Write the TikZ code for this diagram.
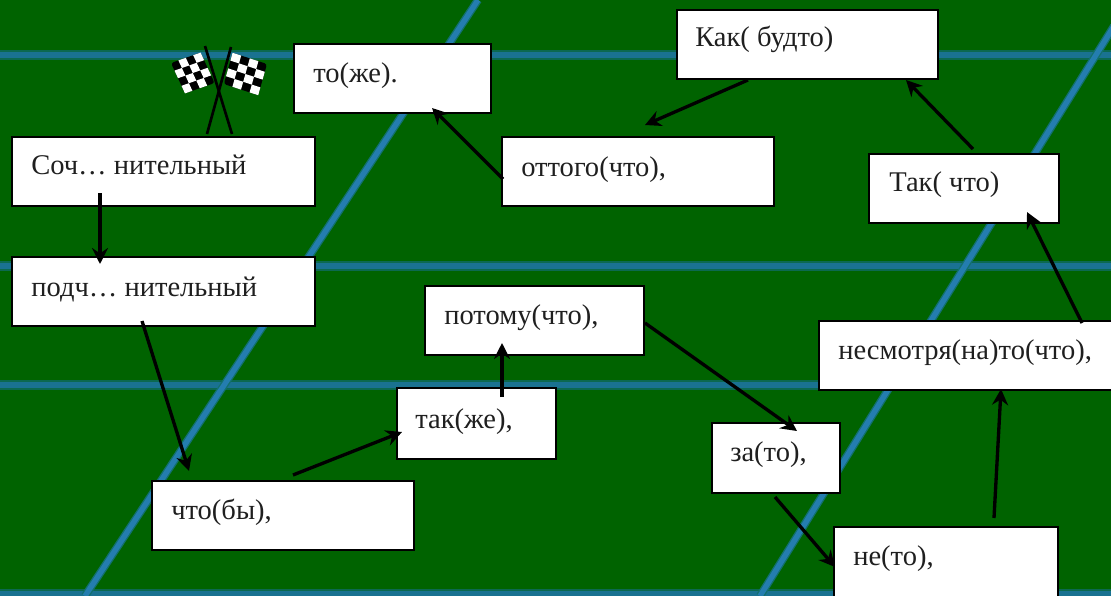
\documentclass[tikz,border=0pt]{standalone}
\usepackage{fontspec}
\setmainfont{Liberation Serif}
\usetikzlibrary{arrows.meta}
\definecolor{bggreen}{RGB}{0,99,0}
\definecolor{hblue}{RGB}{26,114,145}
\definecolor{hglow}{RGB}{12,105,80}
\definecolor{dblue}{RGB}{36,125,175}
\definecolor{dglow}{RGB}{18,112,110}
\tikzset{
  x=0.75pt,y=-0.75pt,
  box/.style={draw=black,line width=1.6pt,fill=white,inner sep=0pt,outer sep=0pt,anchor=north west},
  lbl/.style={anchor=base west,inner sep=0pt,font=\fontsize{21.4pt}{24pt}\selectfont,text=black!88},
  conn/.style={draw=black,line width=2.5pt,-{Stealth[length=12pt,width=12pt,inset=4pt]}},
  pole/.style={draw=black,line width=2pt},
}
\newcommand{\hband}[1]{\draw[hglow,line width=7.5pt] (0,#1) -- (1111,#1);\draw[hblue,line width=5pt] (0,#1) -- (1111,#1);}
\newcommand{\dband}[4]{\draw[dglow,line width=6pt] (#1,#2) -- (#3,#4);\draw[dblue,line width=4pt] (#1,#2) -- (#3,#4);}
\newcommand{\mkbox}[5]{\node[box,minimum width=#3*0.75pt,minimum height=#4*0.75pt] (#5) at (#1,#2) {};}
\newcommand{\flagcheck}[6]{%
  \fill[black,rounded corners=2pt] (#1,#2) -- ({#1+4*(#3)},{#2+4*(#4)}) -- ({#1+4*(#3)+4*(#5)},{#2+4*(#4)+4*(#6)}) -- ({#1+4*(#5)},{#2+4*(#6)}) -- cycle;
  \foreach \i in {0,...,3}{\foreach \j in {0,...,3}{%
    \pgfmathtruncatemacro{\oddcell}{mod(\i+\j,2)}%
    \ifnum\oddcell=1
      \fill[white] ({#1+\i*(#3)+\j*(#5)},{#2+\i*(#4)+\j*(#6)}) -- ({#1+(\i+1)*(#3)+\j*(#5)},{#2+(\i+1)*(#4)+\j*(#6)}) -- ({#1+(\i+1)*(#3)+(\j+1)*(#5)},{#2+(\i+1)*(#4)+(\j+1)*(#6)}) -- ({#1+\i*(#3)+(\j+1)*(#5)},{#2+\i*(#4)+(\j+1)*(#6)}) -- cycle;
    \fi}}}
\begin{document}
\begin{tikzpicture}
\useasboundingbox (0,0) rectangle (1111,596);
\fill[bggreen] (0,0) rectangle (1111,596);
\hband{55}
\hband{266}
\hband{385}
\hband{594}
\dband{478}{0}{85}{596}
\dband{760}{596}{1114}{26}
% flags
\flagcheck{171}{63}{7.4}{-2.6}{3.5}{7.6}
\flagcheck{267}{64}{-8.6}{-2.8}{-2.2}{7.8}
\draw[pole] (207,134) -- (231,47);
\draw[pole] (232,134) -- (205,46);
% boxes
\mkbox{12}{137}{303}{69}{a}
\mkbox{12}{257}{303}{69}{b}
\mkbox{152}{481}{262}{69}{c}
\mkbox{397}{388}{159}{71}{d}
\mkbox{425}{286}{219}{69}{e}
\mkbox{712}{423}{128}{70}{f}
\mkbox{834}{527}{224}{72}{g}
\mkbox{819}{321}{295}{69}{h}
\mkbox{869}{154}{190}{69}{i}
\mkbox{677}{10}{261}{69}{j}
\mkbox{502}{137}{272}{69}{k}
\mkbox{294}{44}{197}{69}{l}
% labels
\node[lbl] (ta) at (31,174) {Соч… нительный};
\node[lbl] (tb) at (31,296) {подч… нительный};
\node[lbl] (tc) at (171,519) {что(бы),};
\node[lbl] (td) at (415,428) {так(же),};
\node[lbl] (te) at (444,324) {потому(что),};
\node[lbl] (tf) at (730,461) {за(то),};
\node[lbl] (tg) at (853,565) {не(то),};
\node[lbl] (th) at (838,359) {несмотря(на)то(что),};
\node[lbl] (ti) at (889,191) {Так( что)};
\node[lbl] (tj) at (695,46) {Как( будто)};
\node[lbl] (tk) at (521,176) {оттого(что),};
\node[lbl] (tl) at (313,82) {то(же).};
% connectors
\coordinate (a1) at (100,193); \coordinate (b1) at (100,264);
\coordinate (b2) at (142,321); \coordinate (c1) at (189,471);
\coordinate (c2) at (293,475); \coordinate (d1) at (402,432);
\coordinate (d2) at (502,397); \coordinate (e1) at (502,343);
\coordinate (e2) at (645,323); \coordinate (f1) at (797,431);
\coordinate (f2) at (775,497); \coordinate (g1) at (835,567);
\coordinate (g2) at (994,518); \coordinate (h1) at (1001,389);
\coordinate (h2) at (1082,323); \coordinate (i1) at (1027,212);
\coordinate (i2) at (973,149); \coordinate (j1) at (906,80);
\coordinate (j2) at (748,80); \coordinate (k1) at (645,125);
\coordinate (k2) at (503,179); \coordinate (l1) at (432,108);
\draw[conn,line width=3pt] (a1) -- (b1);
\draw[conn] (b2) -- (c1);
\draw[conn] (c2) -- (d1);
\draw[conn] (d2) -- (e1);
\draw[conn] (e2) -- (f1);
\draw[conn] (f2) -- (g1);
\draw[conn] (g2) -- (h1);
\draw[conn] (h2) -- (i1);
\draw[conn] (i2) -- (j1);
\draw[conn] (j2) -- (k1);
\draw[conn] (k2) -- (l1);
\end{tikzpicture}
\end{document}
